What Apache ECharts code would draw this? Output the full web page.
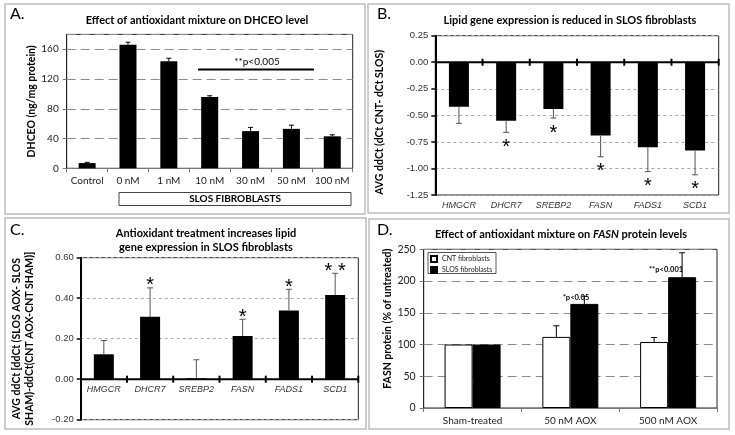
<!DOCTYPE html>
<html><head><meta charset="utf-8">
<script src="https://cdn.jsdelivr.net/npm/echarts@6/dist/echarts.min.js"></script>
<style>html,body{margin:0;padding:0;background:#fff}#c{width:735px;height:435px}</style>
</head><body><div id="c"></div>
<script>
// ---- Panel A data ----
const catsA = ['Control','0 nM','1 nM','10 nM','30 nM','50 nM','100 nM'];
const valsA = [7,166,144,96,50,53,43];
const errA  = [1,3.5,4,1.5,5,5,2];
// ---- Panel B data ----
const genes = ['HMGCR','DHCR7','SREBP2','FASN','FADS1','SCD1'];
const valsB = [-0.42,-0.55,-0.44,-0.69,-0.80,-0.83];
const errB  = [0.155,0.11,0.085,0.2,0.23,0.23];
const sigB  = ['','*','*','*','*','*'];
// ---- Panel C data ----
const valsC = [0.123,0.308,0.004,0.213,0.339,0.416];
const errC  = [0.068,0.143,0.092,0.083,0.105,0.107];
const sigC  = ['','*','','*','*','* *'];
// ---- Panel D data ----
const catsD = ['Sham-treated','50 nM AOX','500 nM AOX'];
const cntD = [100,112,104];
const cntErrD = [0,17.5,7];
const slosD = [100,164,206];
const slosErrD = [0,12,38.5];

const CAL = 'Lato, "Open Sans", sans-serif';
const ARI = '"Liberation Sans Narrow", "Liberation Sans", Arial, sans-serif';
const ARW = '"Liberation Sans", Arial, sans-serif';

function errData(v, e){ return v.map((x,i)=>[i, x, e[i]]); }
function errRender(dir, color, capW, lw, dx){
  return function(params, api){
    const i = api.value(0), v = api.value(1), e = api.value(2);
    if (!e) return;
    const p0 = api.coord([i, v]); const p1 = api.coord([i, v + dir*e]);
    const x = p0[0] + (dx||0);
    return {type:'group', children:[
      {type:'line', shape:{x1:x,y1:p0[1],x2:x,y2:p1[1]}, style:{stroke:color,lineWidth:lw}},
      {type:'line', shape:{x1:x-capW/2,y1:p1[1],x2:x+capW/2,y2:p1[1]}, style:{stroke:color,lineWidth:lw}}
    ]};
  };
}
function starRender(dir, sig, off){
  return function(params, api){
    const s = sig[params.dataIndex]; if (!s) return;
    const i = api.value(0), v = api.value(1), e = api.value(2);
    const p = api.coord([i, v + dir*e]);
    return {type:'text', x:p[0], y:p[1] + off,
      style:{text:s, align:'center', verticalAlign:'middle', font:'20px '+ARW, fill:'#000'}};
  };
}
// zero line with boundary ticks crossing it (and optional category labels just below)
function zeroAxisRender(labels){
  return function(params, api){
    const i = api.value(0);
    const p = api.coord([i, 0]);
    const hw = api.size([1, 0])[0] / 2;
    const ch = [
      {type:'line', shape:{x1:p[0]-hw, y1:p[1], x2:p[0]+hw, y2:p[1]}, style:{stroke:'#000', lineWidth:2}},
      {type:'line', shape:{x1:p[0]+hw, y1:p[1]-3.5, x2:p[0]+hw, y2:p[1]+3.5}, style:{stroke:'#000', lineWidth:2}}
    ];
    if (labels) ch.push({type:'text', x:p[0], y:p[1]+6,
      style:{text:labels[params.dataIndex], align:'center', verticalAlign:'top', font:'italic 9px '+ARI, fill:'#333'}});
    return {type:'group', children:ch};
  };
}

const dashGray = {show:true, lineStyle:{color:'#8c8c8c', type:[9,5], width:1}};
const dotGray = {show:true, lineStyle:{color:'#a8a8a8', type:[3,3], width:1}};
const fmt2 = v => v.toFixed(2);
const zeroData = genes.map((g,i)=>[i,0]);

const chart = echarts.init(document.getElementById('c'));
chart.setOption({
  animation:false,
  backgroundColor:'#fff',
  grid:[
    {left:66.7, top:34.4, width:286, height:133.9, show:true, borderColor:'#222', borderWidth:1, containLabel:false, outerBoundsMode:'none'},
    {left:435.3, top:35.7, width:283.4, height:159.3, show:true, borderColor:'#222', borderWidth:1, containLabel:false, outerBoundsMode:'none'},
    {left:80.7, top:257.7, width:277.6, height:162, show:true, borderColor:'#222', borderWidth:1, containLabel:false, outerBoundsMode:'none'},
    {left:423.7, top:249.3, width:293.3, height:158.7, show:true, borderColor:'#222', borderWidth:1, containLabel:false, outerBoundsMode:'none'}
  ],
  xAxis:[
    {gridIndex:0, type:'category', data:catsA, axisLine:{lineStyle:{color:'#777'}},
     axisTick:{show:true, length:4, lineStyle:{color:'#777'}},
     axisLabel:{fontFamily:CAL, fontSize:10, color:'#222', margin:7, interval:0}},
    {gridIndex:1, type:'category', data:genes, position:'bottom', axisLine:{show:false, onZero:false},
     axisTick:{show:false}, axisLabel:{fontFamily:ARI, fontSize:9, fontStyle:'italic', color:'#333', margin:6, interval:0}},
    {gridIndex:2, type:'category', data:genes, position:'bottom', axisLine:{show:false, onZero:false},
     axisTick:{show:false}, axisLabel:{show:false}},
    {gridIndex:3, type:'category', data:catsD, axisLine:{lineStyle:{color:'#777'}},
     axisTick:{show:true, length:4, lineStyle:{color:'#777'}},
     axisLabel:{fontFamily:CAL, fontSize:10, color:'#222', margin:8, interval:0}}
  ],
  yAxis:[
    {gridIndex:0, type:'value', min:0, max:180, interval:40,
     axisLine:{show:true, lineStyle:{color:'#222'}}, axisTick:{show:true, length:4, lineStyle:{color:'#777'}},
     axisLabel:{fontFamily:CAL, fontSize:10, color:'#222', margin:8, showMaxLabel:false},
     splitLine:dashGray,
     name:'DHCEO (ng/mg protein)', nameLocation:'middle', nameGap:28,
     nameTextStyle:{fontFamily:CAL, fontSize:10.5, fontWeight:'bold', color:'#000'}},
    {gridIndex:1, type:'value', min:-1.25, max:0.25, interval:0.25,
     axisLine:{show:true, lineStyle:{color:'#000', width:2}}, axisTick:{show:true, length:4, lineStyle:{color:'#000', width:1.5}},
     axisLabel:{fontFamily:ARW, fontSize:9.5, color:'#333', margin:7, formatter:fmt2},
     splitLine:dotGray,
     name:'AVG ddCt (dCt CNT- dCt SLOS)', nameLocation:'middle', nameGap:50,
     nameTextStyle:{fontFamily:CAL, fontSize:10.5, fontWeight:'bold', color:'#000', padding:[0,14,0,0]}},
    {gridIndex:2, type:'value', min:-0.2, max:0.6, interval:0.2,
     axisLine:{show:true, lineStyle:{color:'#000', width:2}}, axisTick:{show:true, length:4, lineStyle:{color:'#000', width:1.5}},
     axisLabel:{fontFamily:ARW, fontSize:9.5, color:'#333', margin:7, formatter:fmt2},
     splitLine:dotGray,
     name:'AVG ddCt [ddCt (SLOS AOX- SLOS\nSHAM)-ddCt(CNT AOX-CNT SHAM)]', nameLocation:'middle', nameGap:45,
     nameTextStyle:{fontFamily:CAL, fontSize:10.5, fontWeight:'bold', color:'#000', lineHeight:13}},
    {gridIndex:3, type:'value', min:0, max:250, interval:50,
     axisLine:{show:true, lineStyle:{color:'#222'}}, axisTick:{show:true, length:4, lineStyle:{color:'#777'}},
     axisLabel:{fontFamily:CAL, fontSize:10.5, color:'#222', margin:8},
     splitLine:dashGray,
     name:'FASN protein (% of untreated)', nameLocation:'middle', nameGap:28,
     nameTextStyle:{fontFamily:CAL, fontSize:10.5, fontWeight:'bold', color:'#000', padding:[0,0,0,20]}}
  ],
  legend:{left:430, top:255, orient:'vertical', itemWidth:6, itemHeight:6, itemGap:3, padding:0, icon:'rect',
    data:['CNT fibroblasts','SLOS fibroblasts'], textStyle:{fontFamily:CAL, fontSize:7, color:'#222'}},
  series:[
    {type:'bar', xAxisIndex:0, yAxisIndex:0, data:valsA, barWidth:17, itemStyle:{color:'#000'}},
    {type:'custom', xAxisIndex:0, yAxisIndex:0, data:errData(valsA, errA), renderItem:errRender(1,'#000',5,1), z:5},

    {type:'bar', xAxisIndex:1, yAxisIndex:1, data:valsB, barWidth:20, itemStyle:{color:'#000'}},
    {type:'custom', xAxisIndex:1, yAxisIndex:1, data:zeroData, renderItem:zeroAxisRender(null), z:6},
    {type:'custom', xAxisIndex:1, yAxisIndex:1, data:errData(valsB, errB), renderItem:errRender(-1,'#555',6,1), z:5},
    {type:'custom', xAxisIndex:1, yAxisIndex:1, data:errData(valsB, errB), renderItem:starRender(-1, sigB, 15), z:5},

    {type:'bar', xAxisIndex:2, yAxisIndex:2, data:valsC, barWidth:20, itemStyle:{color:'#000'}},
    {type:'custom', xAxisIndex:2, yAxisIndex:2, data:zeroData, renderItem:zeroAxisRender(genes), z:6},
    {type:'custom', xAxisIndex:2, yAxisIndex:2, data:errData(valsC, errC), renderItem:errRender(1,'#555',6,1), z:5},
    {type:'custom', xAxisIndex:2, yAxisIndex:2, data:errData(valsC, errC), renderItem:starRender(1, sigC, -2), z:5},

    {name:'CNT fibroblasts', type:'bar', xAxisIndex:3, yAxisIndex:3, data:cntD, barWidth:28, barGap:'0%',
     itemStyle:{color:'#fff', borderColor:'#000', borderWidth:1}},
    {name:'SLOS fibroblasts', type:'bar', xAxisIndex:3, yAxisIndex:3, data:slosD, barWidth:28, barGap:'0%',
     itemStyle:{color:'#000', borderColor:'#000', borderWidth:1}},
    {type:'custom', xAxisIndex:3, yAxisIndex:3, data:errData(cntD, cntErrD), renderItem:errRender(1,'#000',6,1,-14), z:5},
    {type:'custom', xAxisIndex:3, yAxisIndex:3, data:errData(slosD, slosErrD), renderItem:errRender(1,'#000',6,1,14), z:5}
  ],
  graphic:[
    {type:'rect', shape:{x:5,y:4,width:360,height:210}, style:{fill:'none', stroke:'#bdbdbd', lineWidth:1.5}, z:-1},
    {type:'rect', shape:{x:368,y:4,width:361,height:209}, style:{fill:'none', stroke:'#bdbdbd', lineWidth:1.5}, z:-1},
    {type:'rect', shape:{x:5,y:218,width:361,height:211}, style:{fill:'none', stroke:'#bdbdbd', lineWidth:1.5}, z:-1},
    {type:'rect', shape:{x:369,y:219,width:360,height:210}, style:{fill:'none', stroke:'#bdbdbd', lineWidth:1.5}, z:-1},

    {type:'text', x:10, y:14, style:{text:'A.', font:'16px '+CAL, fill:'#000', verticalAlign:'middle'}},
    {type:'text', x:377, y:14, style:{text:'B.', font:'16px '+CAL, fill:'#000', verticalAlign:'middle'}},
    {type:'text', x:10, y:230, style:{text:'C.', font:'16px '+CAL, fill:'#000', verticalAlign:'middle'}},
    {type:'text', x:377, y:230, style:{text:'D.', font:'16px '+CAL, fill:'#000', verticalAlign:'middle'}},

    {type:'text', x:197, y:20, style:{text:'Effect of antioxidant mixture on DHCEO level', font:'bold 11px '+CAL, fill:'#000', align:'center', verticalAlign:'middle'}},
    {type:'text', x:570, y:20, style:{text:'Lipid gene expression is reduced in SLOS fibroblasts', font:'bold 11px '+CAL, fill:'#000', align:'center', verticalAlign:'middle'}},
    {type:'text', x:206, y:233, style:{text:'Antioxidant treatment increases lipid', font:'bold 11px '+CAL, fill:'#000', align:'center', verticalAlign:'middle'}},
    {type:'text', x:206, y:247, style:{text:'gene expression in SLOS fibroblasts', font:'bold 11px '+CAL, fill:'#000', align:'center', verticalAlign:'middle'}},
    {type:'text', x:561, y:234, style:{text:'{a|Effect of antioxidant mixture on }{b|FASN}{a| protein levels}', align:'center', verticalAlign:'middle',
      rich:{a:{fontFamily:CAL, fontSize:11, fontWeight:'bold', fill:'#000'}, b:{fontFamily:CAL, fontSize:11, fontWeight:'bold', fontStyle:'italic', fill:'#000'}}}},

    // panel A significance annotation
    {type:'line', shape:{x1:198, y1:69.5, x2:314, y2:69.5}, style:{stroke:'#000', lineWidth:2}},
    {type:'text', x:257, y:62, style:{text:'**p<0.005', font:'10px '+CAL, fill:'#000', align:'center', verticalAlign:'middle'}},
    // SLOS fibroblasts bracket box
    {type:'rect', shape:{x:119, y:192.5, width:232, height:13}, style:{fill:'#fff', stroke:'#444', lineWidth:1}},
    {type:'text', x:235, y:199, style:{text:'SLOS FIBROBLASTS', font:'bold 10px '+CAL, fill:'#000', align:'center', verticalAlign:'middle'}},
    // panel D legend box + p-values
    {type:'rect', shape:{x:428, y:252.5, width:68, height:21}, style:{fill:'none', stroke:'#555', lineWidth:1}},
    {type:'text', x:576, y:298, style:{text:'*p<0.05', font:'bold 7.5px '+CAL, fill:'#000', align:'center', verticalAlign:'middle'}},
    {type:'text', x:666, y:270, style:{text:'**p<0.001', font:'bold 7.5px '+CAL, fill:'#000', align:'center', verticalAlign:'middle'}}
  ]
});
</script></body></html>
